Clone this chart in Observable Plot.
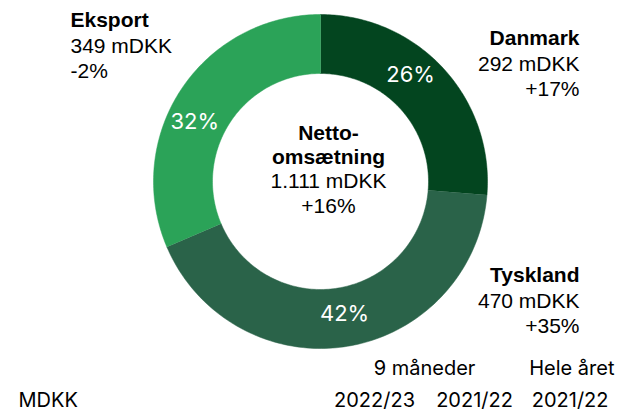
<!DOCTYPE html>
<html>
<head>
<meta charset="utf-8">
<script src="https://cdn.jsdelivr.net/npm/d3@7"></script>
<script src="https://cdn.jsdelivr.net/npm/@observablehq/plot@0.6"></script>
<style>
  html, body { margin: 0; padding: 0; background: #fff; }
  #chart svg { display: block; }
</style>
</head>
<body>
<div id="chart"></div>
<script>
// ---- data ----
const regions = ["Danmark", "Tyskland", "Eksport"];
const values = [292, 470, 349];            // mDKK
const shares = ["26%", "42%", "32%"];
const growth = ["+17%", "+35%", "-2%"];
const colors = ["#03451f", "#2a6349", "#2ba358"];
const totalLabel = "1.111 mDKK";
const totalGrowth = "+16%";
const centerTitle = ["Netto-", "omsætning"];
const headerTop = ["9 måneder", "Hele året"];
const headerBottom = ["MDKK", "2022/23", "2021/22", "2021/22"];

// ---- geometry ----
const W = 620, H = 411;
const cx = 320, cy = 181, R = 167, r0 = 108;

const pie = d3.pie().sort(null).value(d => d.value)
  (regions.map((name, i) => ({name, value: values[i], share: shares[i]})));

const ringPts = [];
for (const a of pie) {
  const n = 120;
  for (let k = 0; k <= n; k++) {
    const t = a.startAngle + (a.endAngle - a.startAngle) * k / n;
    ringPts.push({name: a.data.name, x: cx + R * Math.sin(t), y: cy - R * Math.cos(t)});
  }
  for (let k = n; k >= 0; k--) {
    const t = a.startAngle + (a.endAngle - a.startAngle) * k / n;
    ringPts.push({name: a.data.name, x: cx + r0 * Math.sin(t), y: cy - r0 * Math.cos(t)});
  }
}

// percent labels: ring-band centroid plus a small nudge to match the original placement
const nudge = {Danmark: [-11, -13], Tyskland: [2, -3], Eksport: [-11, 16]};
const mid = (R + r0) / 2;
const pctPts = pie.map(a => {
  const t = (a.startAngle + a.endAngle) / 2;
  const [nx, ny] = nudge[a.data.name];
  return {label: a.data.share, x: cx + mid * Math.sin(t) + nx, y: cy - mid * Math.cos(t) + ny};
});

const labelFont = "Liberation Sans, Arial, sans-serif";
const geoFont = "Inter, Lato, sans-serif";
const FS = 21;

// region label blocks
const regionLabels = [
  {name: "Eksport", i: 2, x: 70, y: 20, anchor: "start"},
  {name: "Danmark", i: 0, x: 579, y: 38, anchor: "end"},
  {name: "Tyskland", i: 1, x: 579, y: 275, anchor: "end"}
];
const boldLines = [], normLines = [];
for (const L of regionLabels) {
  boldLines.push({text: L.name, x: L.x, y: L.y, anchor: L.anchor});
  normLines.push({text: values[L.i] + " mDKK", x: L.x, y: L.y + 25.3, anchor: L.anchor});
  normLines.push({text: growth[L.i], x: L.x, y: L.y + 50.6, anchor: L.anchor});
}

const ccx = 328;
const centerBold = [{text: centerTitle[0], y: 132.5}, {text: centerTitle[1], y: 157}];
const centerNorm = [{text: totalLabel, y: 181}, {text: totalGrowth, y: 205.5}];

const headers = [
  {text: headerTop[0], x: 424, y: 368, anchor: "middle"},
  {text: headerTop[1], x: 614, y: 368, anchor: "end"},
  {text: headerBottom[0], x: 18, y: 400, anchor: "start"},
  {text: headerBottom[1], x: 374, y: 400, anchor: "middle"},
  {text: headerBottom[2], x: 474, y: 400, anchor: "middle"},
  {text: headerBottom[3], x: 608, y: 400, anchor: "end"}
];

const byAnchor = (arr, an) => arr.filter(d => d.anchor === an);

const textMarks = [];
for (const an of ["start", "middle", "end"]) {
  textMarks.push(
    Plot.text(byAnchor(boldLines, an), {x: "x", y: "y", text: "text", textAnchor: an, fontSize: FS, fontWeight: "bold", fontFamily: labelFont, fill: "#000"}),
    Plot.text(byAnchor(normLines, an), {x: "x", y: "y", text: "text", textAnchor: an, fontSize: FS, fontFamily: labelFont, fill: "#000"}),
    Plot.text(byAnchor(headers, an), {x: "x", y: "y", text: "text", textAnchor: an, fontSize: 20, fontFamily: geoFont, fill: "#000"})
  );
}

const chart = Plot.plot({
  width: W, height: H,
  margin: 0,
  x: {domain: [0, W], range: [0, W], axis: null},
  y: {domain: [0, H], range: [0, H], axis: null},
  color: {domain: regions, range: colors},
  marks: [
    Plot.line(ringPts, {x: "x", y: "y", z: "name", fill: "name", stroke: "name", strokeWidth: 0.5, curve: "linear"}),
    Plot.text(pctPts, {x: "x", y: "y", text: "label", fill: "white", fontSize: 22, fontFamily: geoFont}),
    Plot.text(centerBold, {x: () => ccx, y: "y", text: "text", fontSize: FS, fontWeight: "bold", fontFamily: labelFont, fill: "#000"}),
    Plot.text(centerNorm, {x: () => ccx, y: "y", text: "text", fontSize: FS, fontFamily: labelFont, fill: "#000"}),
    ...textMarks
  ]
});
document.getElementById("chart").appendChild(chart);
</script>
</body>
</html>
